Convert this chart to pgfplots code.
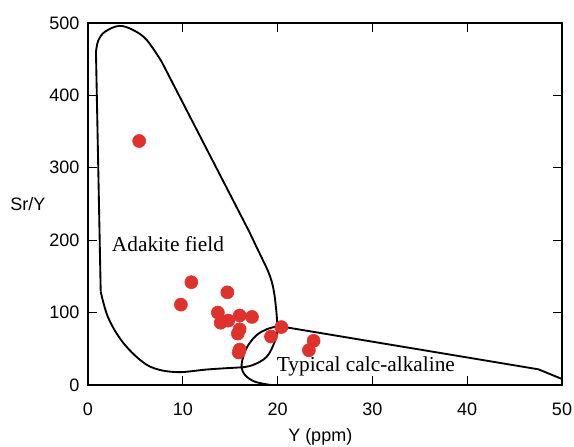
\documentclass[border=0pt]{standalone}
\usepackage{pgfplots}
\pgfplotsset{compat=1.18}
\usepackage{fontspec}
\setmainfont{Liberation Sans}
\newfontfamily\timesfont{Liberation Serif}
\definecolor{ptred}{RGB}{224,50,45}

\begin{document}
\begin{tikzpicture}
\begin{axis}[
  scale only axis,
  width=355.5pt, height=271.5pt,
  xmin=0, xmax=50, ymin=0, ymax=500,
  xtick={0,10,...,50}, ytick={0,100,...,500},
  tick align=inside,
  major tick length=6.5pt,
  axis line style={line width=1.75pt},
  every tick/.append style={black, line width=1pt},
  /pgf/number format/assume math mode=true,
  tick label style={font=\fontsize{13.5}{16}\selectfont},
  xticklabel style={yshift=-10pt},
  yticklabel style={xshift=-3pt},
  xlabel={Y (ppm)},
  ylabel={Sr/Y},
  label style={font=\fontsize{13.5}{16}\selectfont},
  xlabel style={at={(rel axis cs:0.49,0)}, anchor=center, yshift=-39pt},
  ylabel style={rotate=-90, at={(rel axis cs:0,0.5)}, anchor=center, xshift=-45pt},
  clip=false,
]
% samples
\addplot[only marks, mark=*, mark size=4.9pt, color=ptred] coordinates {
  (5.4,337) (10.9,142) (9.8,111) (14.7,128) (13.7,100) (14.0,86)
  (14.8,89) (16.0,96) (17.3,94) (16.0,77) (15.8,71) (16.0,49)
  (15.9,45) (19.3,67) (20.4,80) (23.8,61) (23.3,48)
};
% adakite field
\addplot[black, line width=1.4pt, smooth, tension=0.6] coordinates {
  (16.2,24.4) (12.7,21.6) (9.5,17.8) (7.0,23) (5.3,36.8) (3.5,62) (2.1,94) (1.34,129)
};
\addplot[black, line width=1.4pt] coordinates {(1.34,129) (0.84,460)};
\addplot[black, line width=1.4pt, smooth, tension=0.6] coordinates {
  (0.84,460) (1.09,476) (1.8,488) (3.3,496) (4.8,490) (6.2,476.5) (7.77,446.5)
};
\addplot[black, line width=1.4pt] coordinates {(7.77,446.5) (17.0,212)};
\addplot[black, line width=1.4pt, smooth, tension=0.6] coordinates {
  (17.0,212) (17.8,190) (18.5,171) (19.0,157) (19.4,142) (19.65,126) (19.82,108)
  (19.93,92) (19.97,76) (19.7,60) (18.85,39) (17.4,27.6) (16.2,24.4)
};
% typical calc-alkaline field
\addplot[black, line width=1.4pt, smooth, tension=0.6] coordinates {
  (19.3,0) (17.6,4.6) (16.56,13.8) (16.2,25) (16.4,40) (16.9,55) (17.8,69) (18.85,77) (20.07,81.5)
};
\addplot[black, line width=1.4pt] coordinates {(20.07,81.5) (47.5,21.7) (50,8.3)};

\node[anchor=base west, inner sep=0, font=\timesfont\fontsize{16}{19}\selectfont] at (axis cs:2.5,184) {Adakite field};
\node[anchor=base west, inner sep=0, font=\timesfont\fontsize{16}{19}\selectfont] at (axis cs:19.9,18.4) {Typical calc-alkaline};

\coordinate (sw) at (rel axis cs:0,0);
\coordinate (ne) at (rel axis cs:1,1);
\end{axis}
\pgfresetboundingbox
\path[use as bounding box] ([shift={(-66pt,-45.75pt)}]sw) rectangle ([shift={(9pt,17.25pt)}]ne);
\end{tikzpicture}
\end{document}
